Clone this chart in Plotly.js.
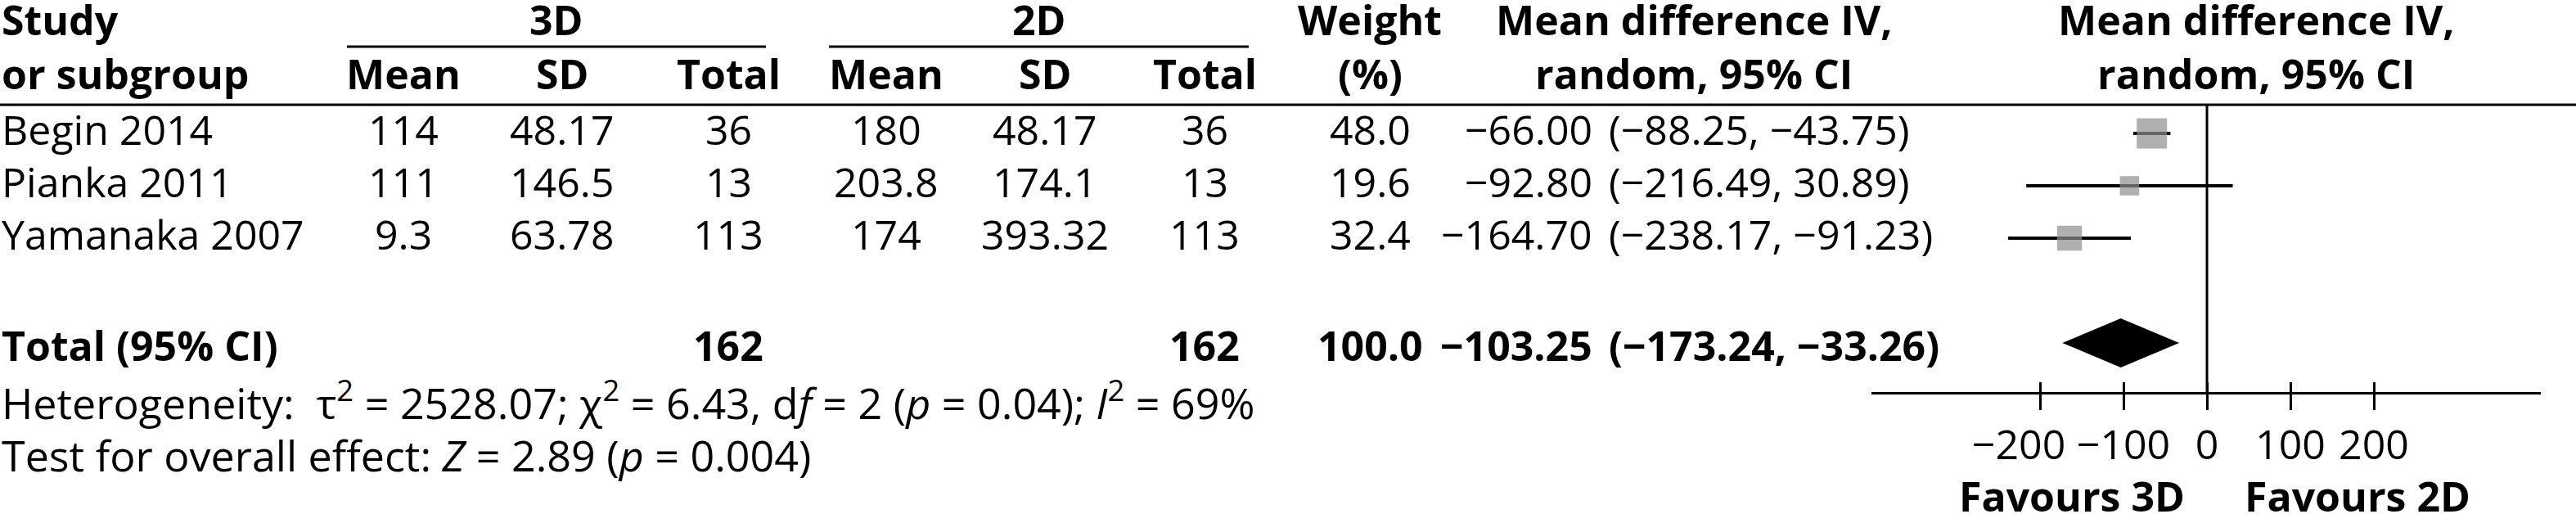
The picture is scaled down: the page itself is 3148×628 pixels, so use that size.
<!DOCTYPE html>
<html><head><meta charset="utf-8">
<script src="https://cdn.plot.ly/plotly-3.0.1.min.js"></script>
<style>html,body{margin:0;padding:0;background:#fff;overflow:hidden}#chart{width:3148px;height:628px}</style>
</head><body><div id="chart"></div>
<script>
// ---------- data ----------
const studies   = ['Begin 2014', 'Pianka 2011', 'Yamanaka 2007'];
const mean3D    = [114, 111, 9.3];
const sd3D      = [48.17, 146.5, 63.78];
const total3D   = [36, 13, 113];
const mean2D    = [180, 203.8, 174];
const sd2D      = [48.17, 174.1, 393.32];
const total2D   = [36, 13, 113];
const weights   = [48.0, 19.6, 32.4];
const md        = [-66.00, -92.80, -164.70];
const ciLow     = [-88.25, -216.49, -238.17];
const ciHigh    = [-43.75, 30.89, -91.23];
const pooledLabel = 'Total (95% CI)';
const pooledN3D = 162, pooledN2D = 162, pooledWeight = 100.0;
const pooledMD  = -103.25, pooledLow = -173.24, pooledHigh = -33.26;
const hetTau2 = 2528.07, hetChi2 = 6.43, hetDf = 2, hetP = '0.04', hetI2 = 69;
const overallZ = 2.89, overallP = '0.004';
const tickVals  = [-200, -100, 0, 100, 200];
const favourLabels = ['Favours 3D', 'Favours 2D'];

// ---------- layout constants (pixels) ----------
const W = 3148, H = 628;
const FONT = 'Open Sans, Noto Sans, sans-serif';
const FS = 50;
const px = x => x / W, py = y => 1 - y / H;
const col = {m3: 493, s3: 687, n3: 890, m2: 1083, s2: 1277, n2: 1472, wt: 1674, mdEnd: 1948, ciStart: 1964, fp: 2757, md: 2070};
const rowTop = 163, rowStep = 64;
const axisY = 480, headLineY = 128;
const MINUS = '\u2212';
const fmt = (v, d) => (v < 0 ? MINUS : '') + Math.abs(v).toFixed(d);

const rows = studies.map((_, i) => i);
const pooledRow = studies.length + 1;

const annotations = [];
function ann(text, x, y, o) {
  annotations.push(Object.assign({
    text: text, x: x, y: y, xref: 'paper', yref: 'paper', showarrow: false,
    xanchor: 'center', yanchor: 'middle', font: {family: FONT, size: FS, color: '#000'}
  }, o || {}));
}
const bold = {family: FONT, size: FS, color: '#000', weight: 700};

// headers
const h1 = 24, h2 = 90;
ann('Study', 0, py(h1), {xanchor: 'left', font: bold});
ann('or subgroup', 0, py(h2), {xanchor: 'left', font: bold});
ann('3D', px(680), py(h1), {font: bold});
ann('2D', px(1270), py(h1), {font: bold});
[['Mean', col.m3], ['SD', col.s3], ['Total', col.n3], ['Mean', col.m2], ['SD', col.s2], ['Total', col.n2]]
  .forEach(([t, x]) => ann(t, px(x), py(h2), {font: bold}));
ann('Weight', px(col.wt), py(h1), {font: bold});
ann('(%)', px(col.wt), py(h2), {font: bold});
ann('Mean difference IV,', px(col.md), py(h1), {font: bold});
ann('random, 95% CI', px(col.md), py(h2), {font: bold});
ann('Mean difference IV,', px(col.fp), py(h1), {font: bold});
ann('random, 95% CI', px(col.fp), py(h2), {font: bold});

// study rows
const rowShift = 5;
rows.forEach(i => {
  const o = {yref: 'y', yshift: rowShift};
  ann(studies[i], 0, i, Object.assign({xanchor: 'left'}, o));
  ann(String(mean3D[i]), px(col.m3), i, o);
  ann(String(sd3D[i]), px(col.s3), i, o);
  ann(String(total3D[i]), px(col.n3), i, o);
  ann(String(mean2D[i]), px(col.m2), i, o);
  ann(String(sd2D[i]), px(col.s2), i, o);
  ann(String(total2D[i]), px(col.n2), i, o);
  ann(weights[i].toFixed(1), px(col.wt), i, o);
  ann(fmt(md[i], 2), px(col.mdEnd), i, Object.assign({xanchor: 'right'}, o));
  ann('(' + fmt(ciLow[i], 2) + ', ' + fmt(ciHigh[i], 2) + ')', px(col.ciStart), i, Object.assign({xanchor: 'left'}, o));
});
// pooled row
const po = {yref: 'y', yshift: -3, font: bold};
ann(pooledLabel, 0, pooledRow, Object.assign({}, po, {xanchor: 'left'}));
ann(String(pooledN3D), px(col.n3), pooledRow, po);
ann(String(pooledN2D), px(col.n2), pooledRow, po);
ann(pooledWeight.toFixed(1), px(col.wt), pooledRow, po);
ann(fmt(pooledMD, 2), px(col.mdEnd), pooledRow, Object.assign({}, po, {xanchor: 'right'}));
ann('(' + fmt(pooledLow, 2) + ', ' + fmt(pooledHigh, 2) + ')', px(col.ciStart), pooledRow, Object.assign({}, po, {xanchor: 'left'}));

// footnotes
const footFont = {family: FONT, size: 52, color: '#000'};
ann('Heterogeneity:\u00A0 \u03C4<sup>2</sup> = ' + hetTau2.toFixed(2) + '; \u03C7<sup>2</sup> = ' + hetChi2.toFixed(2) +
    ', d<i>f</i> = ' + hetDf + ' (<i>p</i> = ' + hetP + '); <i>I</i><sup>2</sup> = ' + hetI2 + '%', 0, py(489), {xanchor: 'left', font: footFont});
ann('Test for overall effect: <i>Z</i> = ' + overallZ.toFixed(2) + ' (<i>p</i> = ' + overallP + ')', 0, py(555), {xanchor: 'left', font: footFont});

// favours labels
ann(favourLabels[0], -162, py(606), {xref: 'x', font: bold});
ann(favourLabels[1], 180, py(606), {xref: 'x', font: bold});

// ---------- traces ----------
const ciX = [], ciY = [];
rows.forEach(i => { ciX.push(ciLow[i], ciHigh[i], null); ciY.push(i, i, null); });
const diamondHalf = 30 / rowStep;
const traces = [
  {type: 'scatter', mode: 'lines', x: ciX, y: ciY, line: {color: '#000', width: 4}, hoverinfo: 'skip'},
  {type: 'scatter', mode: 'markers', x: md, y: rows,
   marker: {symbol: 'square', color: '#8f8f8f', size: weights.map(w => 37 * Math.sqrt(w / 48)), line: {width: 0}}},
  {type: 'scatter', mode: 'lines', fill: 'toself', fillcolor: '#000',
   x: [pooledLow, pooledMD, pooledHigh, pooledMD, pooledLow],
   y: [pooledRow, pooledRow - diamondHalf, pooledRow, pooledRow + diamondHalf, pooledRow],
   line: {color: '#000', width: 0}}
];

const xRange = [-402, 400];
const xDomain = [px(2287), px(3105)];
const layout = {
  width: W, height: H, margin: {l: 0, r: 0, t: 0, b: 0, pad: 0},
  paper_bgcolor: '#fff', plot_bgcolor: 'rgba(0,0,0,0)', showlegend: false,
  font: {family: FONT, size: FS, color: '#000'},
  xaxis: {domain: xDomain, range: xRange, anchor: 'free', position: py(axisY),
    showline: true, linecolor: '#000', linewidth: 3, showgrid: false, zeroline: false,
    ticks: 'outside', ticklen: 19, tickwidth: 3, tickcolor: '#000',
    tickmode: 'array', tickvals: tickVals,
    ticktext: tickVals.map(v => (v < 0 ? MINUS : '') + Math.abs(v) + (v === tickVals[0] ? '\u00A0\u00A0\u00A0\u00A0' : '')),
    tickangle: 0, tickfont: {family: FONT, size: FS, color: '#000'}, fixedrange: true},
  xaxis2: {overlaying: 'x', matches: 'x', anchor: 'free', position: py(axisY), range: xRange,
    showline: false, showgrid: false, zeroline: false, ticks: 'inside', ticklen: 13, tickwidth: 3,
    tickcolor: '#000', tickmode: 'array', tickvals: tickVals, showticklabels: false, fixedrange: true},
  yaxis: {domain: [0, 1], range: [(H - rowTop) / rowStep, -rowTop / rowStep], visible: false, fixedrange: true},
  shapes: [
    {type: 'line', xref: 'paper', yref: 'paper', x0: 0, x1: 1, y0: py(headLineY), y1: py(headLineY), line: {color: '#000', width: 3}},
    {type: 'line', xref: 'paper', yref: 'paper', x0: px(424), x1: px(936), y0: py(57), y1: py(57), line: {color: '#000', width: 3}},
    {type: 'line', xref: 'paper', yref: 'paper', x0: px(1013), x1: px(1526), y0: py(57), y1: py(57), line: {color: '#000', width: 3}},
    {type: 'line', xref: 'x', yref: 'paper', x0: 0, x1: 0, y0: py(headLineY), y1: py(axisY), line: {color: '#000', width: 3}}
  ],
  annotations: annotations
};
traces.push({type: 'scatter', x: [0], y: [0], xaxis: 'x2', mode: 'markers', marker: {opacity: 0}, hoverinfo: 'skip'});
Plotly.newPlot('chart', traces, layout, {displayModeBar: false, staticPlot: true});
</script></body></html>
